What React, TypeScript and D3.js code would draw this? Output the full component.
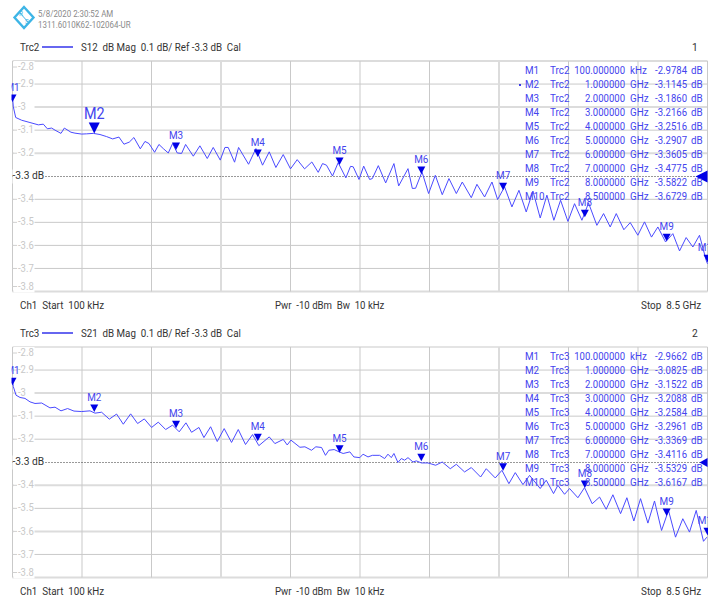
import React from "react";
import * as d3 from "d3";

const headerLines = ["5/8/2020 2:30:52 AM", "1311.6010K62-102064-UR"];
const yTicks = [-2.8, -2.9, -3, -3.1, -3.2, -3.3, -3.4, -3.5, -3.6, -3.7, -3.8];
const yTickLabels = ["-2.8", "-2.9", "-3", "-3.1", "-3.2", "", "-3.4", "-3.5", "-3.6", "-3.7", "-3.8"];
const markerNames = ["M1", "M2", "M3", "M4", "M5", "M6", "M7", "M8", "M9", "M10"];
const markerFreqs = [0.0001, 1, 2, 3, 4, 5, 6, 7, 8, 8.5];
const markerFreqText = ["100.000000", "1.000000", "2.000000", "3.000000", "4.000000", "5.000000", "6.000000", "7.000000", "8.000000", "8.500000"];
const markerUnits = ["kHz", "GHz", "GHz", "GHz", "GHz", "GHz", "GHz", "GHz", "GHz", "GHz"];

const s12Markers = [-2.9784, -3.1145, -3.186, -3.2166, -3.2516, -3.2907, -3.3605, -3.4775, -3.5822, -3.6729];
const s21Markers = [-2.9662, -3.0825, -3.1522, -3.2088, -3.2584, -3.2961, -3.3369, -3.4116, -3.5329, -3.6167];

const s12Freq = [0.0001,0.01,0.039,0.112,0.214,0.316,0.377,0.426,0.479,0.52,0.593,0.634,0.715,0.764,0.846,0.907,0.988,1.07,1.151,1.225,1.302,1.363,1.428,1.485,1.563,1.62,1.669,1.738,1.791,1.844,1.905,1.958,2.015,2.068,2.117,2.211,2.292,2.382,2.455,2.541,2.598,2.638,2.716,2.765,2.887,2.977,3.058,3.14,3.221,3.311,3.4,3.482,3.572,3.661,3.739,3.792,3.84,3.914,3.983,4.077,4.134,4.167,4.238,4.295,4.368,4.401,4.474,4.564,4.665,4.723,4.837,4.89,4.93,5.008,5.089,5.171,5.256,5.338,5.428,5.501,5.611,5.68,5.774,5.864,5.933,6.018,6.108,6.194,6.283,6.365,6.454,6.536,6.621,6.703,6.793,6.874,6.964,7.045,7.147,7.229,7.31,7.384,7.477,7.555,7.648,7.73,7.815,7.893,7.987,8.076,8.158,8.239,8.321,8.402,8.484,8.5];
const s12Values = [-2.955,-2.999,-3.045,-3.057,-3.067,-3.077,-3.074,-3.094,-3.091,-3.1,-3.114,-3.091,-3.109,-3.113,-3.117,-3.116,-3.114,-3.119,-3.128,-3.138,-3.13,-3.161,-3.152,-3.132,-3.181,-3.149,-3.158,-3.196,-3.162,-3.18,-3.199,-3.158,-3.199,-3.201,-3.162,-3.213,-3.168,-3.223,-3.175,-3.23,-3.175,-3.175,-3.239,-3.175,-3.248,-3.18,-3.252,-3.194,-3.262,-3.206,-3.268,-3.228,-3.268,-3.238,-3.283,-3.245,-3.252,-3.299,-3.241,-3.307,-3.257,-3.259,-3.314,-3.256,-3.314,-3.31,-3.254,-3.329,-3.245,-3.342,-3.267,-3.353,-3.352,-3.281,-3.375,-3.296,-3.38,-3.31,-3.375,-3.325,-3.393,-3.335,-3.39,-3.325,-3.401,-3.346,-3.433,-3.361,-3.455,-3.364,-3.481,-3.382,-3.491,-3.404,-3.496,-3.419,-3.491,-3.416,-3.513,-3.462,-3.52,-3.462,-3.532,-3.501,-3.556,-3.498,-3.564,-3.52,-3.585,-3.549,-3.624,-3.566,-3.607,-3.556,-3.665,-3.68];

const s21Freq = [0.0001,0.01,0.043,0.092,0.153,0.214,0.275,0.357,0.458,0.52,0.593,0.674,0.752,0.846,0.948,1.009,1.09,1.184,1.273,1.355,1.445,1.53,1.612,1.701,1.783,1.873,1.958,2.039,2.121,2.19,2.28,2.341,2.423,2.504,2.589,2.679,2.761,2.85,2.936,3.013,3.14,3.209,3.311,3.36,3.405,3.515,3.576,3.657,3.71,3.78,3.828,3.869,3.934,3.995,4.044,4.126,4.175,4.248,4.287,4.348,4.401,4.49,4.551,4.592,4.633,4.665,4.714,4.755,4.796,4.837,4.898,4.939,5,5.081,5.175,5.256,5.354,5.428,5.529,5.611,5.725,5.794,5.904,5.986,6.071,6.149,6.243,6.324,6.454,6.528,6.617,6.67,6.752,6.813,6.915,6.996,7.09,7.18,7.261,7.343,7.437,7.514,7.599,7.681,7.771,7.852,7.938,8.023,8.109,8.198,8.28,8.362,8.451,8.492];
const s21Values = [-2.943,-2.972,-3.009,-3.019,-3.023,-3.038,-3.045,-3.043,-3.064,-3.061,-3.077,-3.067,-3.078,-3.08,-3.077,-3.087,-3.083,-3.113,-3.091,-3.135,-3.09,-3.132,-3.112,-3.149,-3.126,-3.158,-3.139,-3.168,-3.129,-3.17,-3.149,-3.193,-3.146,-3.21,-3.154,-3.214,-3.158,-3.223,-3.18,-3.228,-3.19,-3.219,-3.201,-3.225,-3.204,-3.235,-3.233,-3.248,-3.233,-3.236,-3.27,-3.248,-3.245,-3.255,-3.262,-3.255,-3.277,-3.28,-3.265,-3.277,-3.27,-3.27,-3.284,-3.265,-3.28,-3.262,-3.301,-3.284,-3.291,-3.28,-3.299,-3.294,-3.303,-3.303,-3.313,-3.299,-3.328,-3.309,-3.342,-3.323,-3.364,-3.328,-3.368,-3.335,-3.393,-3.345,-3.397,-3.357,-3.414,-3.378,-3.436,-3.4,-3.439,-3.414,-3.454,-3.41,-3.48,-3.451,-3.504,-3.441,-3.523,-3.454,-3.555,-3.458,-3.564,-3.468,-3.596,-3.509,-3.625,-3.545,-3.603,-3.509,-3.643,-3.625];

const FONT = "Roboto, 'Noto Sans', sans-serif";
const TRACE = "#4a4aff";
const MARK = "#0000e6";
const LABEL = "#4444ee";
const GRID = "#c9c9c9";
const TEXT = "#333333";

const xLeft = 12.5;
const xRight = 707.5;
const x = d3.scaleLinear().domain([0, 8.5]).range([xLeft, xRight]);
const xGrid = d3.range(0, 11).map((i) => (i * 8.5) / 10);

function T(props: { x: number; y: number; size: number; sx?: number; fill: string; anchor?: string; children: React.ReactNode }) {
  const { x: tx, y: ty, size, sx = 0.93, fill, anchor = "start", children } = props;
  return (
    <text
      transform={`translate(${tx},${ty}) scale(${sx},1)`}
      fontSize={size}
      fill={fill}
      textAnchor={anchor}
      dominantBaseline="middle"
      style={{ whiteSpace: "pre" }}
    >
      {children}
    </text>
  );
}

type PanelProps = {
  top: number;
  trcName: string;
  param: string;
  index: string;
  freq: number[];
  values: number[];
  markers: number[];
  thickH: number[];
  bigMarker: number;
  arrowW: number;
  arrowH: number;
  showDot: boolean;
  clipId: string;
  tableOffset: number;
};

function Panel(p: PanelProps) {
  const y = d3.scaleLinear().domain([-2.8, -3.8]).range([p.top, p.top + 230.5]);
  const line = d3.line<number>().x((_, i) => x(p.freq[i])).y((v) => y(v));
  const refY = Math.round(y(-3.3)) + 0.5;
  const rowY = (i: number) => p.top + p.tableOffset + i * 14;
  return (
    <g fontFamily={FONT}>
      <T x={20} y={p.top - 13} size={10.8} sx={0.91} fill={TEXT}>{p.trcName}</T>
      <line x1={42} x2={73} y1={p.top - 14} y2={p.top - 14} stroke="#0000e6" strokeWidth={1.2} />
      <T x={81} y={p.top - 13} size={10.8} sx={0.905} fill={TEXT}>{`${p.param}  dB Mag  0.1 dB/ Ref -3.3 dB  Cal`}</T>
      <T x={695} y={p.top - 13} size={10.8} sx={0.95} fill={TEXT} anchor="middle">{p.index}</T>

      {yTicks.map((t, i) => {
        const ty = y(t);
        const thick = p.thickH.includes(t);
        return t === -3.3 ? null : (
          <line key={i} x1={xLeft} x2={xRight} y1={ty} y2={ty} stroke={thick ? "#dcdcdc" : GRID} strokeWidth={thick ? 2 : 1} />
        );
      })}
      {xGrid.map((t, i) => {
        const thick = i === 3 || i === 7;
        return (
          <line key={i} x1={x(t)} x2={x(t)} y1={y(-2.8)} y2={y(-3.8)} stroke={thick ? "#dcdcdc" : GRID} strokeWidth={thick ? 2 : 1} />
        );
      })}

      {yTicks.map((t, i) => {
        if (!yTickLabels[i]) return null;
        const ty = i === 0 ? y(t) + 6 : i === yTicks.length - 1 ? y(t) - 5 : y(t);
        return (
          <g key={i}>
            <rect x={xLeft + 1} y={ty - 6} width={21} height={12} fill="#fff" />
            <T x={18} y={ty + 0.5} size={10} sx={0.95} fill="#c8c8c8">{yTickLabels[i]}</T>
            <line x1={xLeft} x2={17} y1={ty} y2={ty} stroke="#d0d0d0" />
          </g>
        );
      })}

      <line x1={xLeft} x2={xRight} y1={refY} y2={refY} stroke="#333" strokeWidth={1} strokeDasharray="1 2" />
      <rect x={xLeft} y={refY - 7} width={32} height={14} fill="#fff" />
      <T x={12.5} y={refY - 0.5} size={11} sx={0.93} fill={TEXT}>-3.3 dB</T>

      <clipPath id={p.clipId}>
        <rect x={xLeft - 1} y={p.top} width={xRight - xLeft + 1.5} height={231} />
      </clipPath>

      <path d={line(p.values) || ""} fill="none" stroke={TRACE} strokeWidth={1} clipPath={`url(#${p.clipId})`} />

      {markerNames.map((name, i) => {
        const mx = x(markerFreqs[i]);
        const my = y(p.markers[i]);
        const big = i === p.bigMarker;
        const h = big ? 11 : 7.5;
        const w = big ? 11 : 8;
        return (
          <g key={name} clipPath={`url(#${p.clipId})`}>
            <path d={`M${mx - w / 2},${my - h}L${mx + w / 2},${my - h}L${mx},${my}Z`} fill={MARK} />
            <T x={mx} y={my - h - (big ? 8 : 6.5)} size={big ? 16 : 11} sx={0.9} fill={LABEL} anchor="middle">{name}</T>
          </g>
        );
      })}

      <path d={`M${xRight},${refY - p.arrowH / 2}L${xRight},${refY + p.arrowH / 2}L${xRight - p.arrowW},${refY}Z`} fill={MARK} />

      {markerNames.map((name, i) => (
        <g key={name}>
          <T x={525} y={rowY(i)} size={10.6} fill={LABEL}>{name}</T>
          <T x={550} y={rowY(i)} size={10.6} fill={LABEL}>{p.trcName}</T>
          <T x={625} y={rowY(i)} size={10.6} sx={0.9} fill={LABEL} anchor="end">{markerFreqText[i]}</T>
          <T x={630} y={rowY(i)} size={10.6} fill={LABEL}>{markerUnits[i]}</T>
          <T x={687} y={rowY(i)} size={10.6} sx={0.9} fill={LABEL} anchor="end">{p.markers[i].toFixed(4)}</T>
          <T x={691} y={rowY(i)} size={10.6} fill={LABEL}>dB</T>
        </g>
      ))}
      {p.showDot && <circle cx={520} cy={rowY(1)} r={1} fill={MARK} />}

      <T x={20} y={p.top + 245} size={10.8} sx={0.91} fill={TEXT}>Ch1  Start  100 kHz</T>
      <T x={275} y={p.top + 245} size={10.8} sx={0.89} fill={TEXT}>Pwr  -10 dBm  Bw  10 kHz</T>
      <T x={641} y={p.top + 245} size={10.8} sx={0.92} fill={TEXT}>Stop  8.5 GHz</T>
    </g>
  );
}

function Logo() {
  return (
    <g>
      <path d="M24,7L33.5,17.5L24,28L14.5,17.5Z" fill="#fff" stroke="#3db5e6" strokeWidth={2.4} />
      <path d="M19,12L29,23" stroke="#3db5e6" strokeWidth={1} />
      <text x={21} y={15.5} fontSize={6.5} fill="#3db5e6" fontFamily={FONT} textAnchor="middle">R</text>
      <text x={27} y={24} fontSize={6.5} fill="#3db5e6" fontFamily={FONT} textAnchor="middle">S</text>
    </g>
  );
}

export default function App() {
  return (
    <svg width={717} height={598} style={{ position: "absolute", left: 0, top: 0, background: "#fff" }}>
      <Logo />
      <g fontFamily={FONT}>
        {headerLines.map((t, i) => (
          <T key={t} x={38} y={14.5 + i * 11} size={9} sx={0.88} fill="#8a8a8a">{t}</T>
        ))}
      </g>
      <Panel top={61} trcName="Trc2" param="S12" index="1" freq={s12Freq} values={s12Values} markers={s12Markers}
        thickH={[-2.8, -3, -3.2, -3.8]} bigMarker={1} arrowW={12} arrowH={12} showDot clipId="clipA" tableOffset={10} />
      <Panel top={347} trcName="Trc3" param="S21" index="2" freq={s21Freq} values={s21Values} markers={s21Markers}
        thickH={[-3, -3.4, -3.6, -3.8]} bigMarker={-1} arrowW={8} arrowH={9} showDot={false} clipId="clipB" tableOffset={10} />
    </svg>
  );
}
